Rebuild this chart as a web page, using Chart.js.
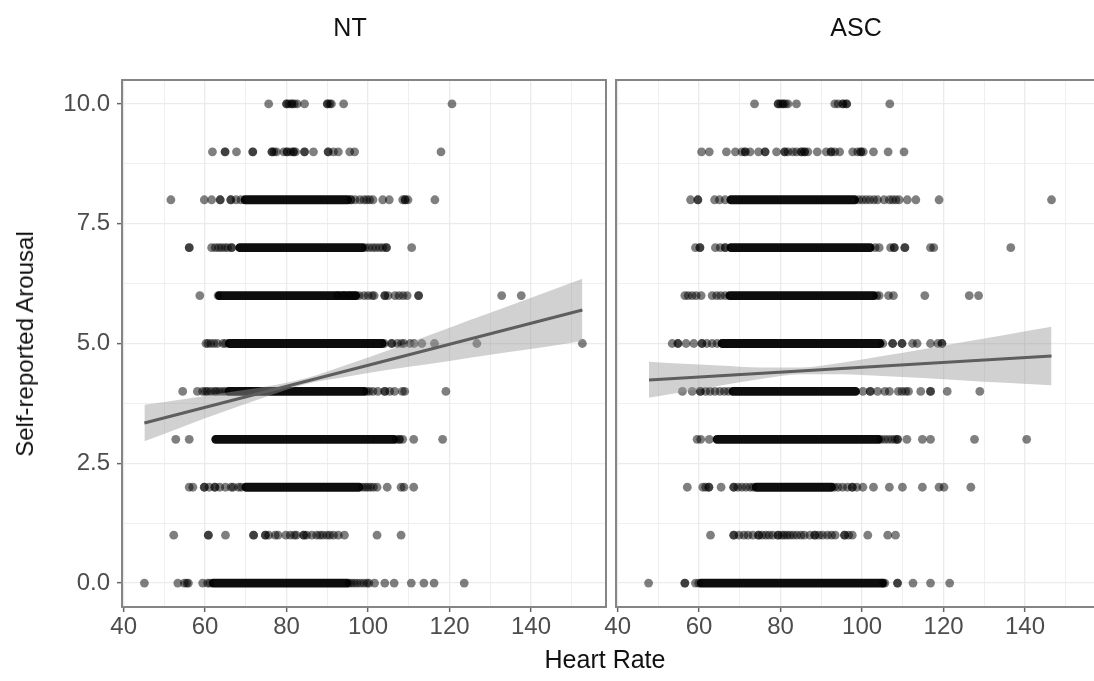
<!doctype html>
<html lang="en">
<head>
<meta charset="utf-8"/>
<title>Heart Rate vs Self-reported Arousal</title>
<script src="https://cdn.jsdelivr.net/npm/chart.js"></script>
<style>
*{box-sizing:border-box}
html,body{margin:0;padding:0;width:1094px;height:681px;overflow:hidden;background:#fff;font-family:"Liberation Sans",Arial,sans-serif}
canvas{position:absolute;top:0}
#nt{left:0}
#asc{left:596px}
.lbl{position:absolute;color:#111;white-space:nowrap;line-height:1}
.strip{top:15px;font-size:25px;transform:translateX(-50%)}
#xTitle{left:605px;top:647px;font-size:25px;transform:translateX(-50%)}
#yTitle{left:25px;top:344px;font-size:24px;transform:translate(-50%,-50%) rotate(-90deg)}
</style>
</head>
<body>
<canvas id="nt" width="611" height="681"></canvas>
<canvas id="asc" width="510" height="681"></canvas>
<div class="lbl strip" style="left:350px">NT</div>
<div class="lbl strip" style="left:856px">ASC</div>
<div class="lbl" id="xTitle">Heart Rate</div>
<div class="lbl" id="yTitle">Self-reported Arousal</div>

<script>
// axis breaks
const xGrid = [40, 50, 60, 70, 80, 90, 100, 110, 120, 130, 140, 150];
const xMajor = [40, 60, 80, 100, 120, 140];
const yGrid = [0, 1.25, 2.5, 3.75, 5, 6.25, 7.5, 8.75, 10];
const yMajor = [0, 2.5, 5, 7.5, 10];
const yTickLabels = ['0.0', '2.5', '5.0', '7.5', '10.0'];

// NT: heart rate of single points, one list per arousal level 0..10
const ntPoints = [
  [45.1, 53.3, 54.9, 55.5, 55.9, 59.4, 60.6, 61.2, 95.3, 95.9, 96.6, 97.3, 98.1, 98.9, 99.7, 100.2, 101.6, 104.1, 106.4, 110.6, 113.7, 116.2, 123.6],
  [52.3, 60.8, 60.8, 65.0, 71.9, 71.9, 74.8, 74.8, 75.6, 77.2, 77.9, 79.8, 80.9, 81.9, 82.4, 84.2, 84.2, 84.9, 86.2, 87.4, 88.2, 88.9, 89.9, 90.6, 91.5, 92.7, 94.2, 102.2, 108.1],
  [56.1, 57.0, 59.8, 59.8, 61.0, 62.4, 62.4, 63.6, 65.0, 66.4, 66.9, 68.2, 68.9, 98.6, 99.3, 99.9, 100.6, 101.3, 102.2, 104.7, 108.1, 108.8, 111.2],
  [52.8, 56.1, 106.9, 107.7, 107.7, 108.5, 111.2, 118.3],
  [54.5, 58.1, 59.4, 60.1, 60.6, 61.4, 62.3, 62.8, 63.5, 64.3, 65.0, 99.6, 100.3, 101.2, 102.4, 104.1, 104.1, 105.3, 106.5, 108.4, 109.0, 119.1],
  [60.2, 60.7, 61.4, 62.2, 63.0, 64.4, 65.0, 104.0, 105.7, 105.9, 107.2, 108.2, 108.8, 110.3, 111.3, 113.2, 116.3, 126.7, 152.6],
  [58.7, 63.2, 92.5, 94.0, 95.5, 96.6, 97.8, 99.0, 100.0, 101.0, 101.5, 104.1, 104.1, 104.9, 106.6, 107.6, 108.6, 109.6, 112.4, 112.4, 132.8, 137.6],
  [56.1, 56.1, 61.6, 62.5, 63.3, 64.0, 64.8, 65.5, 66.5, 66.5, 99.3, 100.2, 101.1, 101.9, 102.8, 103.6, 104.5, 104.5, 110.7],
  [51.6, 59.8, 61.6, 63.7, 63.7, 66.3, 66.3, 67.6, 68.8, 95.8, 95.8, 96.8, 98.0, 99.0, 99.7, 100.4, 101.2, 103.6, 105.2, 108.5, 109.1, 109.1, 109.8, 116.4],
  [61.8, 64.9, 64.9, 67.7, 71.7, 71.7, 76.4, 76.4, 76.9, 77.5, 79.3, 80.1, 80.1, 81.0, 81.7, 81.7, 82.2, 84.4, 84.4, 86.6, 90.2, 90.2, 91.5, 92.7, 95.5, 96.7, 117.9],
  [75.6, 80.0, 80.0, 80.6, 81.3, 81.3, 81.9, 82.6, 84.4, 90.0, 90.0, 90.6, 91.0, 94.0, 120.6]
];
// NT: solid overplotted runs [arousal, from HR, to HR]
const ntRuns = [[0, 62, 94.8], [2, 70, 97.8], [3, 62.6, 106.3], [4, 65.8, 99], [5, 65.9, 103.5], [6, 63.5, 97], [7, 68.5, 98.6], [8, 69.8, 95]];
const ntFitX = [45.1, 152.6];
const ntFitY = [3.34, 5.70];
const ntBandX = [45.1, 55, 65, 75, 85, 95, 105, 115, 125, 135, 145, 152.6];
const ntBandLo = [2.96, 3.28, 3.59, 3.89, 4.16, 4.31, 4.45, 4.57, 4.70, 4.83, 4.95, 5.05];
const ntBandHi = [3.72, 3.84, 3.97, 4.10, 4.28, 4.56, 4.86, 5.17, 5.49, 5.80, 6.11, 6.35];

// ASC
const ascPoints = [
  [47.6, 56.5, 56.5, 59.1, 59.9, 105.2, 105.6, 108.7, 108.7, 112.5, 116.8, 121.5],
  [62.8, 68.5, 68.5, 69.8, 71.0, 72.0, 73.2, 74.6, 74.6, 75.5, 76.4, 77.2, 78.1, 79.4, 79.4, 80.3, 80.9, 81.6, 82.3, 83.1, 84.0, 85.0, 85.8, 87.2, 88.4, 88.4, 89.4, 90.3, 91.5, 92.5, 93.4, 95.7, 95.7, 96.7, 97.6, 101.4, 106.3, 108.2],
  [57.1, 60.9, 61.6, 62.4, 62.4, 65.4, 68.5, 68.5, 69.5, 70.5, 71.5, 72.5, 73.3, 93.2, 94.1, 95.2, 96.4, 97.6, 97.6, 98.7, 100.2, 102.8, 106.7, 109.9, 114.8, 118.9, 120.1, 126.7],
  [59.5, 60.4, 62.5, 104.6, 105.5, 106.4, 107.3, 108.1, 108.7, 108.7, 111.0, 114.8, 116.8, 127.6, 140.4],
  [55.9, 58.3, 60.3, 60.3, 61.6, 62.7, 63.9, 65.1, 66.2, 67.2, 100.2, 102.0, 102.0, 103.8, 105.6, 106.7, 108.9, 109.8, 110.7, 111.4, 114.4, 116.8, 116.8, 120.9, 128.9],
  [53.4, 54.8, 54.8, 56.8, 58.7, 60.7, 60.7, 61.9, 63.2, 64.4, 105.1, 107.5, 107.5, 109.8, 109.8, 112.4, 113.5, 116.8, 118.6, 119.6, 119.6],
  [56.5, 57.3, 58.3, 59.3, 60.5, 63.2, 64.3, 65.3, 66.4, 103.6, 104.2, 106.5, 107.7, 115.4, 126.3, 128.6],
  [59.1, 60.2, 60.2, 64.0, 65.2, 66.4, 66.4, 103.2, 104.2, 107.0, 107.9, 107.9, 110.5, 110.5, 116.8, 117.6, 136.5],
  [57.9, 59.7, 59.7, 63.8, 65.0, 66.4, 99.2, 100.1, 101.0, 101.9, 102.9, 103.8, 105.4, 106.7, 107.5, 108.3, 109.1, 111.1, 113.2, 118.9, 146.5],
  [60.6, 62.5, 66.7, 68.9, 70.5, 71.3, 71.3, 72.5, 74.6, 76.2, 76.2, 79.0, 81.0, 81.0, 81.8, 83.0, 83.9, 85.1, 85.1, 85.9, 85.9, 86.7, 89.0, 91.2, 92.4, 92.4, 93.3, 94.5, 97.7, 98.9, 99.7, 99.7, 100.3, 102.8, 106.4, 110.3],
  [73.6, 79.4, 79.4, 80.0, 80.6, 80.6, 81.2, 81.8, 83.9, 93.3, 94.1, 95.3, 95.3, 96.2, 96.2, 106.8]
];
const ascRuns = [[0, 60.5, 105], [2, 74, 92.5], [3, 64.4, 104], [4, 68.3, 98.4], [5, 65.6, 104.4], [6, 67.5, 102.8], [7, 67.8, 102], [8, 67.8, 98.2]];
const ascFitX = [47.7, 146.5];
const ascFitY = [4.24, 4.74];
const ascBandX = [47.7, 55, 65, 75, 85, 95, 105, 115, 125, 135, 146.5];
const ascBandLo = [3.87, 3.97, 4.12, 4.26, 4.36, 4.36, 4.32, 4.28, 4.23, 4.18, 4.13];
const ascBandHi = [4.62, 4.58, 4.54, 4.50, 4.50, 4.60, 4.74, 4.88, 5.03, 5.18, 5.35];

const panelBorder = {
  id: 'panelBorder',
  afterDraw(chart){
    const {ctx, chartArea:a} = chart;
    ctx.save();
    ctx.strokeStyle = '#858585';
    ctx.lineWidth = 2;
    ctx.strokeRect(a.left, a.top, a.right - a.left, a.bottom - a.top);
    ctx.restore();
  }
};

function xy(xs, ys){ return xs.map((x, i) => ({x: x, y: ys[i]})); }

function makePanel(id, points, runs, fitX, fitY, bandX, bandLo, bandHi, showY){
  const pts = [];
  points.forEach((row, lvl) => row.forEach(hr => pts.push({x: hr, y: lvl})));
  const runPts = [];
  runs.forEach(r => { runPts.push({x: r[1], y: r[0]}, {x: r[2], y: r[0]}, {x: r[2], y: null}); });
  const isMajorX = v => xMajor.includes(v);
  const tickFont = { family: '"Liberation Sans", Arial, sans-serif', size: 24 };
  return new Chart(document.getElementById(id), {
    type: 'scatter',
    data: { datasets: [
      { data: xy(fitX, fitY), showLine: true, borderColor: '#5e5e5e', borderWidth: 3, pointRadius: 0, order: 0 },
      { data: xy(bandX, bandHi), showLine: true, borderWidth: 0, pointRadius: 0, fill: '+1',
        backgroundColor: 'rgba(153,153,153,0.45)', cubicInterpolationMode: 'monotone', order: 1 },
      { data: xy(bandX, bandLo), showLine: true, borderWidth: 0, pointRadius: 0, fill: false,
        cubicInterpolationMode: 'monotone', order: 1 },
      { data: pts, pointRadius: 4.4, backgroundColor: 'rgba(0,0,0,0.5)', borderWidth: 0, order: 2 },
      { data: runPts, showLine: true, spanGaps: false, pointRadius: 0, borderColor: 'rgba(0,0,0,0.95)',
        borderWidth: 8.8, borderCapStyle: 'round', order: 3 }
    ]},
    options: {
      responsive: false, animation: false, events: [],
      layout: { padding: { top: 80, right: showY ? 5 : 6, left: 0, bottom: 0 } },
      plugins: { legend: { display: false }, tooltip: { enabled: false } },
      scales: {
        x: {
          type: 'linear', min: 39.6, max: 158.4,
          afterBuildTicks: s => { s.ticks = xGrid.map(v => ({value: v})); },
          afterFit: s => { s.height = 74; },
          ticks: { autoSkip: false, maxRotation: 0, padding: 1, color: '#4d4d4d', font: tickFont,
            callback: v => isMajorX(v) ? String(v) : '' },
          grid: { color: '#ebebeb', lineWidth: c => isMajorX(c.tick.value) ? 1.3 : 0.8, tickLength: 5,
            tickWidth: 1.5, tickColor: c => isMajorX(c.tick.value) ? '#666' : 'rgba(0,0,0,0)' },
          border: { display: false }
        },
        y: {
          type: 'linear', min: -0.5, max: 10.5,
          afterBuildTicks: s => { s.ticks = yGrid.map(v => ({value: v})); },
          afterFit: s => { s.width = showY ? 122 : 20; },
          ticks: { display: showY, padding: 7, color: '#4d4d4d', font: tickFont,
            callback: v => { const i = yMajor.indexOf(v); return i >= 0 ? yTickLabels[i] : ''; } },
          grid: { color: '#ebebeb', lineWidth: c => yMajor.includes(c.tick.value) ? 1.3 : 0.8,
            drawTicks: showY, tickLength: 5, tickWidth: 1.5,
            tickColor: c => yMajor.includes(c.tick.value) ? '#666' : 'rgba(0,0,0,0)' },
          border: { display: false }
        }
      }
    },
    plugins: [panelBorder]
  });
}

makePanel('nt', ntPoints, ntRuns, ntFitX, ntFitY, ntBandX, ntBandLo, ntBandHi, true);
makePanel('asc', ascPoints, ascRuns, ascFitX, ascFitY, ascBandX, ascBandLo, ascBandHi, false);
</script>
</body>
</html>
